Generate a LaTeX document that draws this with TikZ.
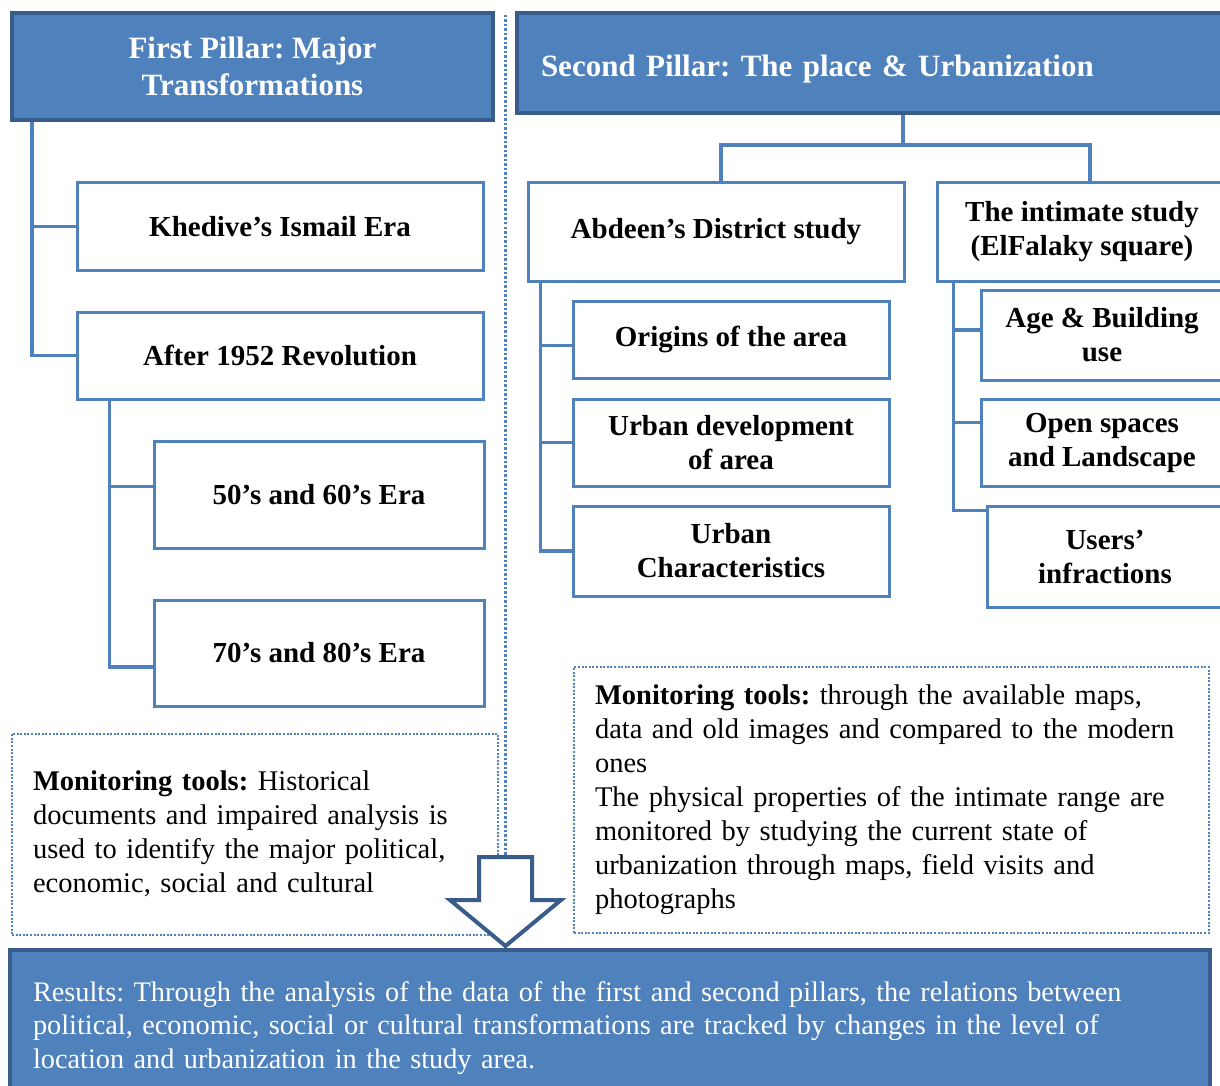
\documentclass[tikz,border=0pt]{standalone}
\usepackage{fontspec}
\setmainfont{Liberation Serif}
\definecolor{pillarblue}{HTML}{4F81BD}
\definecolor{pillaredge}{HTML}{385D8A}
\frenchspacing

\begin{document}
\begin{tikzpicture}[x=1pt,y=-1pt,
		pillar/.style={draw=pillaredge,line width=4pt,fill=pillarblue,text=white,inner sep=0pt,font=\fontsize{31}{37}\selectfont\bfseries},
		topic/.style={draw=pillarblue,line width=3pt,fill=white,align=center,inner sep=0pt,font=\fontsize{29}{34}\selectfont\bfseries},
		link/.style={draw=pillarblue,line width=3.5pt},
		tools/.style={draw=pillarblue,line width=2pt,dash pattern=on 2pt off 1.6pt,align=left,inner sep=0pt,font=\fontsize{28.5}{34}\selectfont},
		divider/.style={draw=pillarblue,line width=3pt,dash pattern=on 2.5pt off 2pt}]
	\useasboundingbox (0,0) rectangle (1220,1086);
	\clip (0,0) rectangle (1220,1086);
	\node[pillar,minimum width=481,minimum height=107,align=center] (first) at (252.5,66.5) {First Pillar: Major\\ Transformations};
	\node[pillar,minimum width=730,minimum height=100,text width=682,align=left] (second) at (882,63) {\rule{0pt}{34pt}Second Pillar: The place \& Urbanization};
	\draw[divider] (505,15) -- (505,857);
	% first pillar
	\node[topic,minimum width=406,minimum height=87] (khedive) at (280,226.5) {Khedive’s Ismail Era};
	\node[topic,minimum width=406,minimum height=87] (after) at (280,355.5) {After 1952 Revolution};
	\node[topic,minimum width=330,minimum height=107] (fifties) at (319,494.5) {50’s and 60’s Era};
	\node[topic,minimum width=330,minimum height=106] (seventies) at (319,653) {70’s and 80’s Era};
	\draw[link] ([xshift=22pt]first.south west) |- (khedive.west) ([xshift=22pt]first.south west) |- (after.west);
	\draw[link] ([xshift=34pt]after.south west) |- ([yshift=8pt]fifties.west) ([xshift=34pt]after.south west) |- ([yshift=-14pt]seventies.west);
	% second pillar
	\node[topic,minimum width=376,minimum height=98] (abdeen) at (716,232) {Abdeen’s District study};
	\node[topic,minimum width=290,minimum height=98] (intimate) at (1082,232) {The intimate study\\ (ElFalaky square)};
	\coordinate (fork) at (903,145);
	\draw[link] (fork |- second.south) -- (fork);
	\draw[link] ([xshift=5pt]abdeen.north) |- ([xshift=8pt]intimate.north |- fork) -- ([xshift=8pt]intimate.north);
	\node[topic,minimum width=316,minimum height=77] (origins) at (731,339.5) {Origins of the area};
	\node[topic,minimum width=316,minimum height=87] (urbandev) at (731,442.5) {Urban development\\ of area};
	\node[topic,minimum width=316,minimum height=90] (urbanchar) at (731,551) {Urban\\ Characteristics};
	\draw[link] ([xshift=14pt]abdeen.south west) |- ([yshift=-6pt]origins.west) ([xshift=14pt]abdeen.south west) |- (urbandev.west) ([xshift=14pt]abdeen.south west) |- (urbanchar.west);
	\node[topic,minimum width=242,minimum height=90] (age) at (1102,335) {Age \& Building\\ use};
	\node[topic,minimum width=242,minimum height=87] (open) at (1102,442.5) {Open spaces\\ and Landscape};
	\node[topic,minimum width=236,minimum height=101] (users) at (1105,556.5) {Users’\\ infractions};
	\draw[link] ([xshift=18pt]intimate.south west) |- ([yshift=5pt]age.west) ([xshift=18pt]intimate.south west) |- ([yshift=20pt]open.west) ([xshift=18pt]intimate.south west) |- ([yshift=-6pt]users.north west);
	% monitoring tools
	\node[tools,minimum width=486,minimum height=201,text width=444] (lefttools) at (255,834) {\textbf{Monitoring tools:} Historical\\ documents and impaired analysis is\\ used to identify the major political,\\ economic, social and cultural};
	\node[tools,minimum width=635,minimum height=266,text width=593] (righttools) at (891.5,800) {\textbf{Monitoring tools:} through the available maps,\\ data and old images and compared to the modern\\ ones\\ The physical properties of the intimate range are\\ monitored by studying the current state of\\ urbanization through maps, field visits and\\ photographs};
	% results
	\node[pillar,minimum width=1200,minimum height=157,text width=1154,align=left,font=\fontsize{28.3}{33.5}\selectfont] (results) at (610,1028) {Results: Through the analysis of the data of the first and second pillars, the relations between\\ political, economic, social or cultural transformations are tracked by changes in the level of\\ location and urbanization in the study area.};
	\draw[draw=pillaredge,line width=4pt,fill=white,line join=miter] (479,857) -- (532,857) -- (532,900) -- (561,900) -- (505.5,946) -- (450,900) -- (479,900) -- cycle;
\end{tikzpicture}
\end{document}
